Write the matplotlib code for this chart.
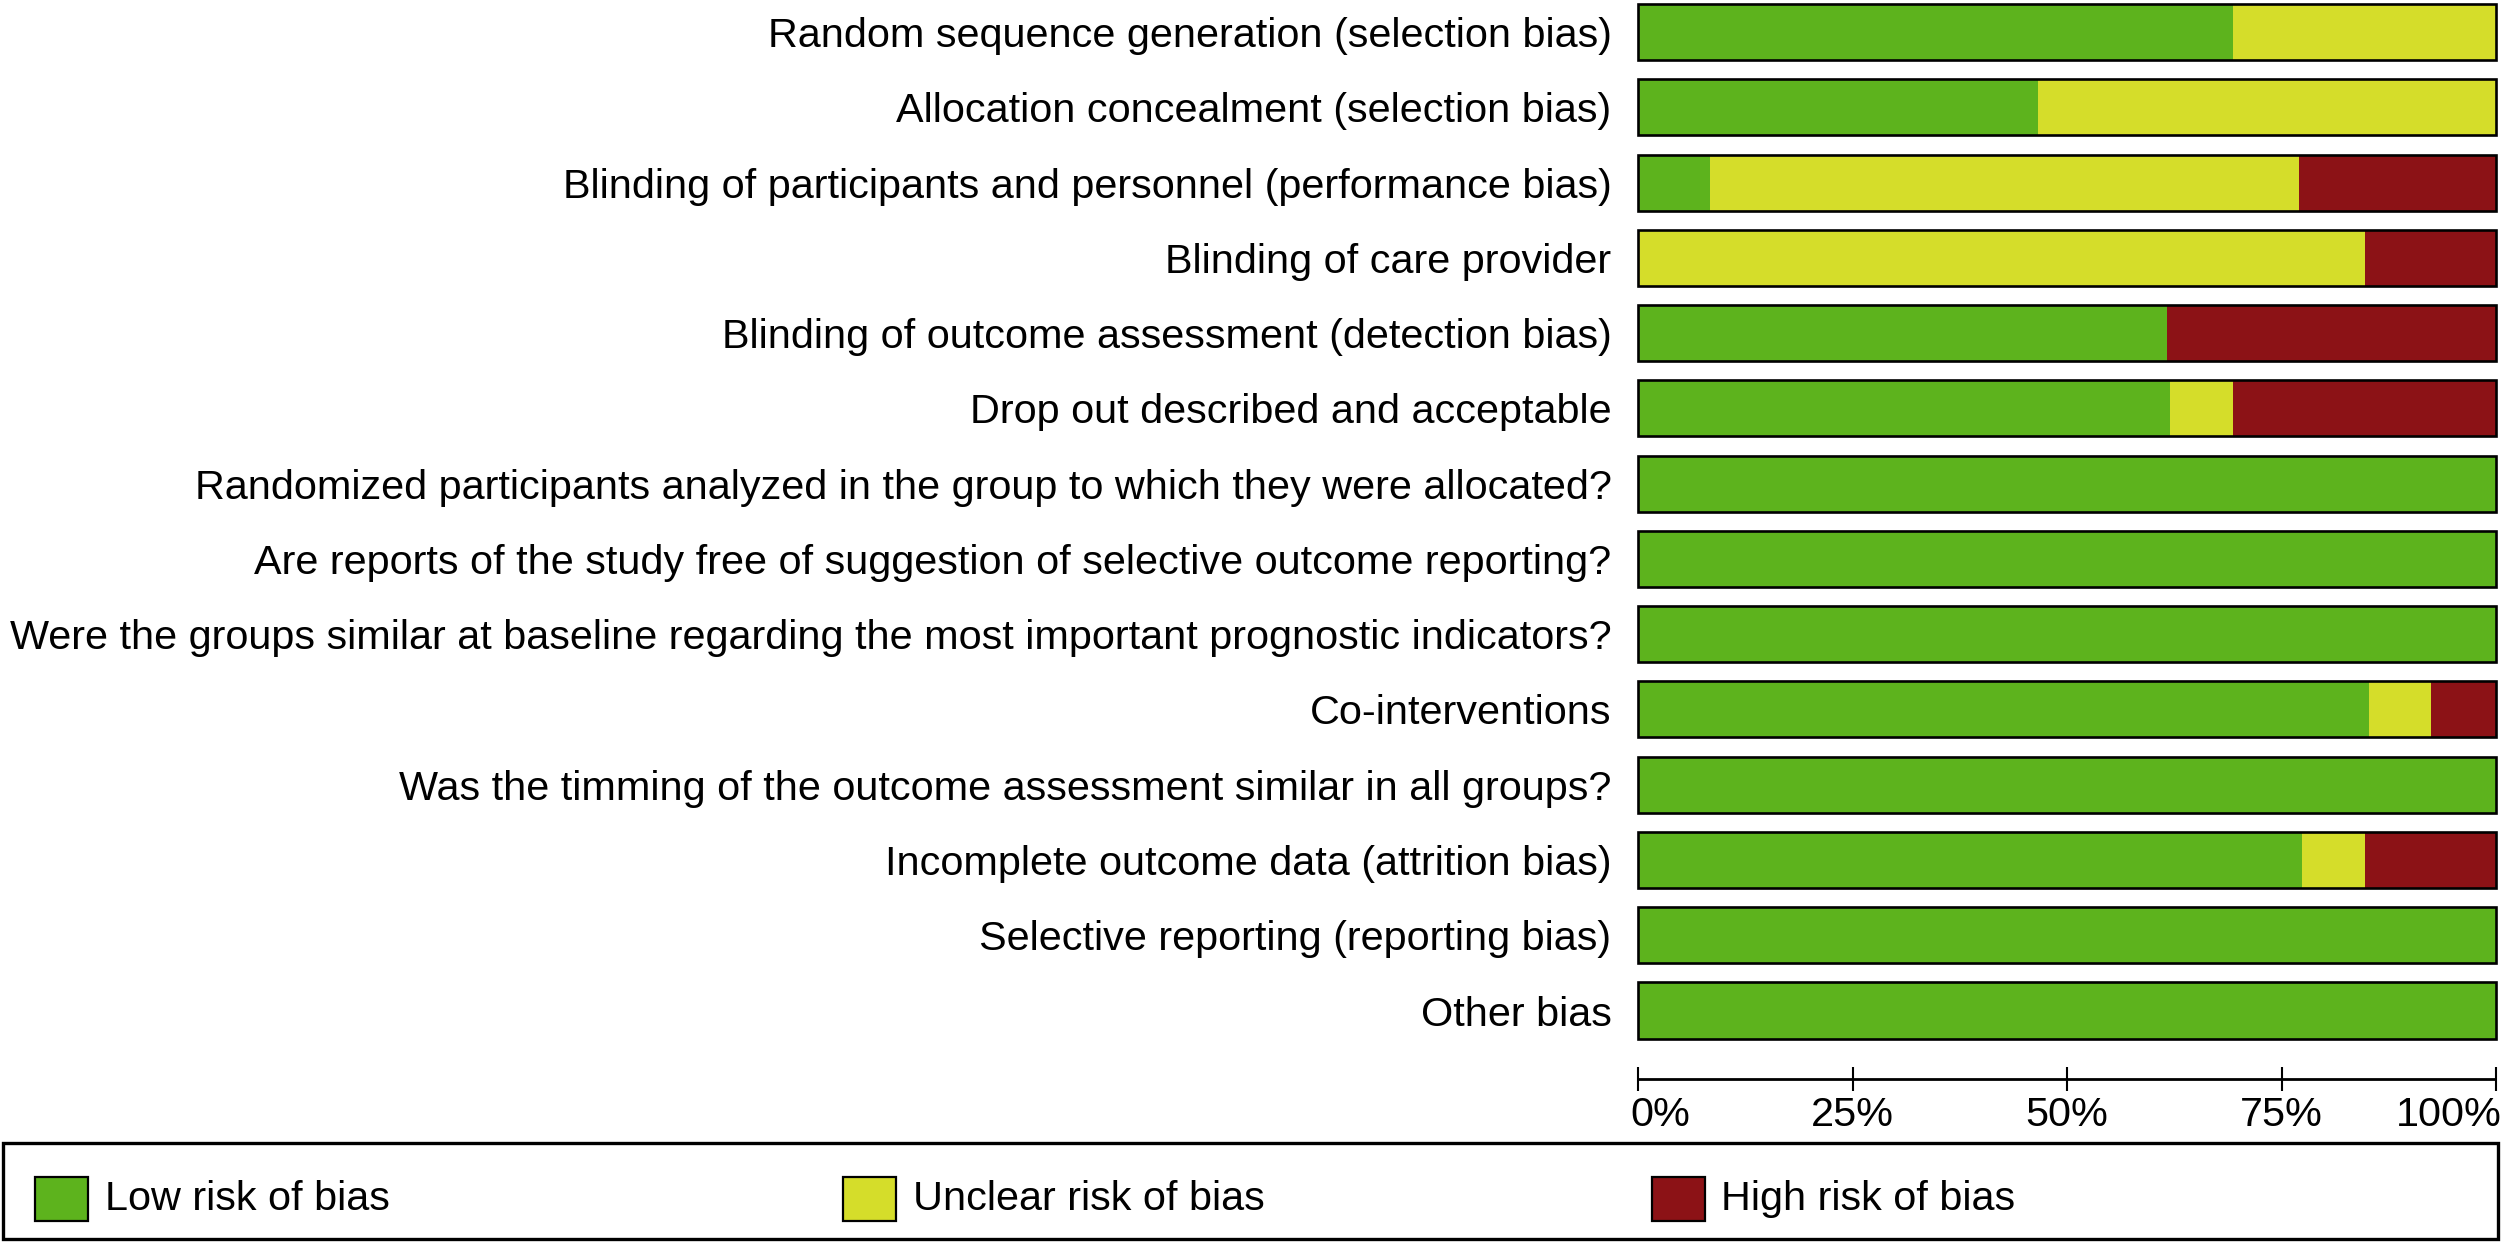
import matplotlib
matplotlib.use("Agg")
import matplotlib.pyplot as plt
from matplotlib.patches import Rectangle
import matplotlib.transforms as mtransforms

plt.rcParams['font.family'] = ['Liberation Sans', 'DejaVu Sans']

categories = [
    "Random sequence generation (selection bias)",
    "Allocation concealment (selection bias)",
    "Blinding of participants and personnel (performance bias)",
    "Blinding of care provider",
    "Blinding of outcome assessment (detection bias)",
    "Drop out described and acceptable",
    "Randomized participants analyzed in the group to which they were allocated?",
    "Are reports of the study free of suggestion of selective outcome reporting?",
    "Were the groups similar at baseline regarding the most important prognostic indicators?",
    "Co-interventions",
    "Was the timming of the outcome assessment similar in all groups?",
    "Incomplete outcome data (attrition bias)",
    "Selective reporting (reporting bias)",
    "Other bias",
]
low_risk = [69.3, 46.6, 8.4, 0.0, 61.6, 62.0, 100, 100, 100, 85.2, 100, 77.4, 100, 100]
unclear_risk = [30.7, 53.4, 68.6, 84.7, 0.0, 7.3, 0, 0, 0, 7.2, 0, 7.3, 0, 0]
high_risk = [0.0, 0.0, 23.0, 15.3, 38.4, 30.7, 0, 0, 0, 7.6, 0, 15.3, 0, 0]
series_names = ["Low risk of bias", "Unclear risk of bias", "High risk of bias"]
tick_values = [0, 25, 50, 75, 100]
tick_labels = ["0%", "25%", "50%", "75%", "100%"]

colors = ["#5DB31D", "#D5DD2A", "#8C1216"]
FS = 29.8

W, H = 2503, 1250
fig = plt.figure(figsize=(W / 100, H / 100), dpi=100)

ax_left, ax_right = 1638 / W, 2496 / W
ax_bottom = (H - 1079) / H
ax_top = (H - 0.4) / H
ax = fig.add_axes([ax_left, ax_bottom, ax_right - ax_left, ax_top - ax_bottom])

n = len(categories)
ypos = list(range(n))
bar_h = 0.745
series = [low_risk, unclear_risk, high_risk]
lefts = [0.0] * n
for vals, col in zip(series, colors):
    ax.barh(ypos, vals, left=lefts, height=bar_h, color=col, edgecolor='none', linewidth=0)
    lefts = [l + v for l, v in zip(lefts, vals)]

for y in ypos:
    ax.add_patch(Rectangle((0, y - bar_h / 2), 100, bar_h, fill=False,
                           edgecolor='black', linewidth=1.9, clip_on=False, zorder=3))

ax.set_xlim(0, 100)
ax.set_ylim(13.91, -0.42)
for s in ['top', 'left', 'right']:
    ax.spines[s].set_visible(False)
ax.spines['bottom'].set_linewidth(2.0)
ax.spines['bottom'].set_capstyle('butt')

ax.set_yticks(ypos)
ax.set_yticklabels(categories, fontsize=FS)
ax.tick_params(axis='y', length=0, pad=19)

ax.set_xticks(tick_values)
ax.set_xticklabels(tick_labels, fontsize=FS)
ax.tick_params(axis='x', direction='inout', length=17, width=1.5, pad=4)
labs = ax.get_xticklabels()
labs[0].set_ha('left')
labs[0].set_transform(labs[0].get_transform() +
                      mtransforms.ScaledTranslation(-8 / 100, 0, fig.dpi_scale_trans))
labs[-1].set_ha('right')
labs[-1].set_transform(labs[-1].get_transform() +
                       mtransforms.ScaledTranslation(6 / 100, 0, fig.dpi_scale_trans))

# legend box
fig.add_artist(Rectangle((3 / W, (H - 1239) / H), (2498 - 3) / W, (1239 - 1143) / H,
                         transform=fig.transFigure, fill=False, edgecolor='black',
                         linewidth=2.4))
patch_x = [35, 843, 1652]
text_x = [105, 913, 1721]
py0, py1 = 1177, 1221
for name, col, px, tx in zip(series_names, colors, patch_x, text_x):
    fig.add_artist(Rectangle((px / W, (H - py1) / H), 53 / W, (py1 - py0) / H,
                             transform=fig.transFigure, facecolor=col,
                             edgecolor='black', linewidth=1.6))
    fig.text(tx / W, (H - 1199) / H, name, fontsize=FS, ha='left', va='center')

fig.savefig("out.png", dpi=100)
